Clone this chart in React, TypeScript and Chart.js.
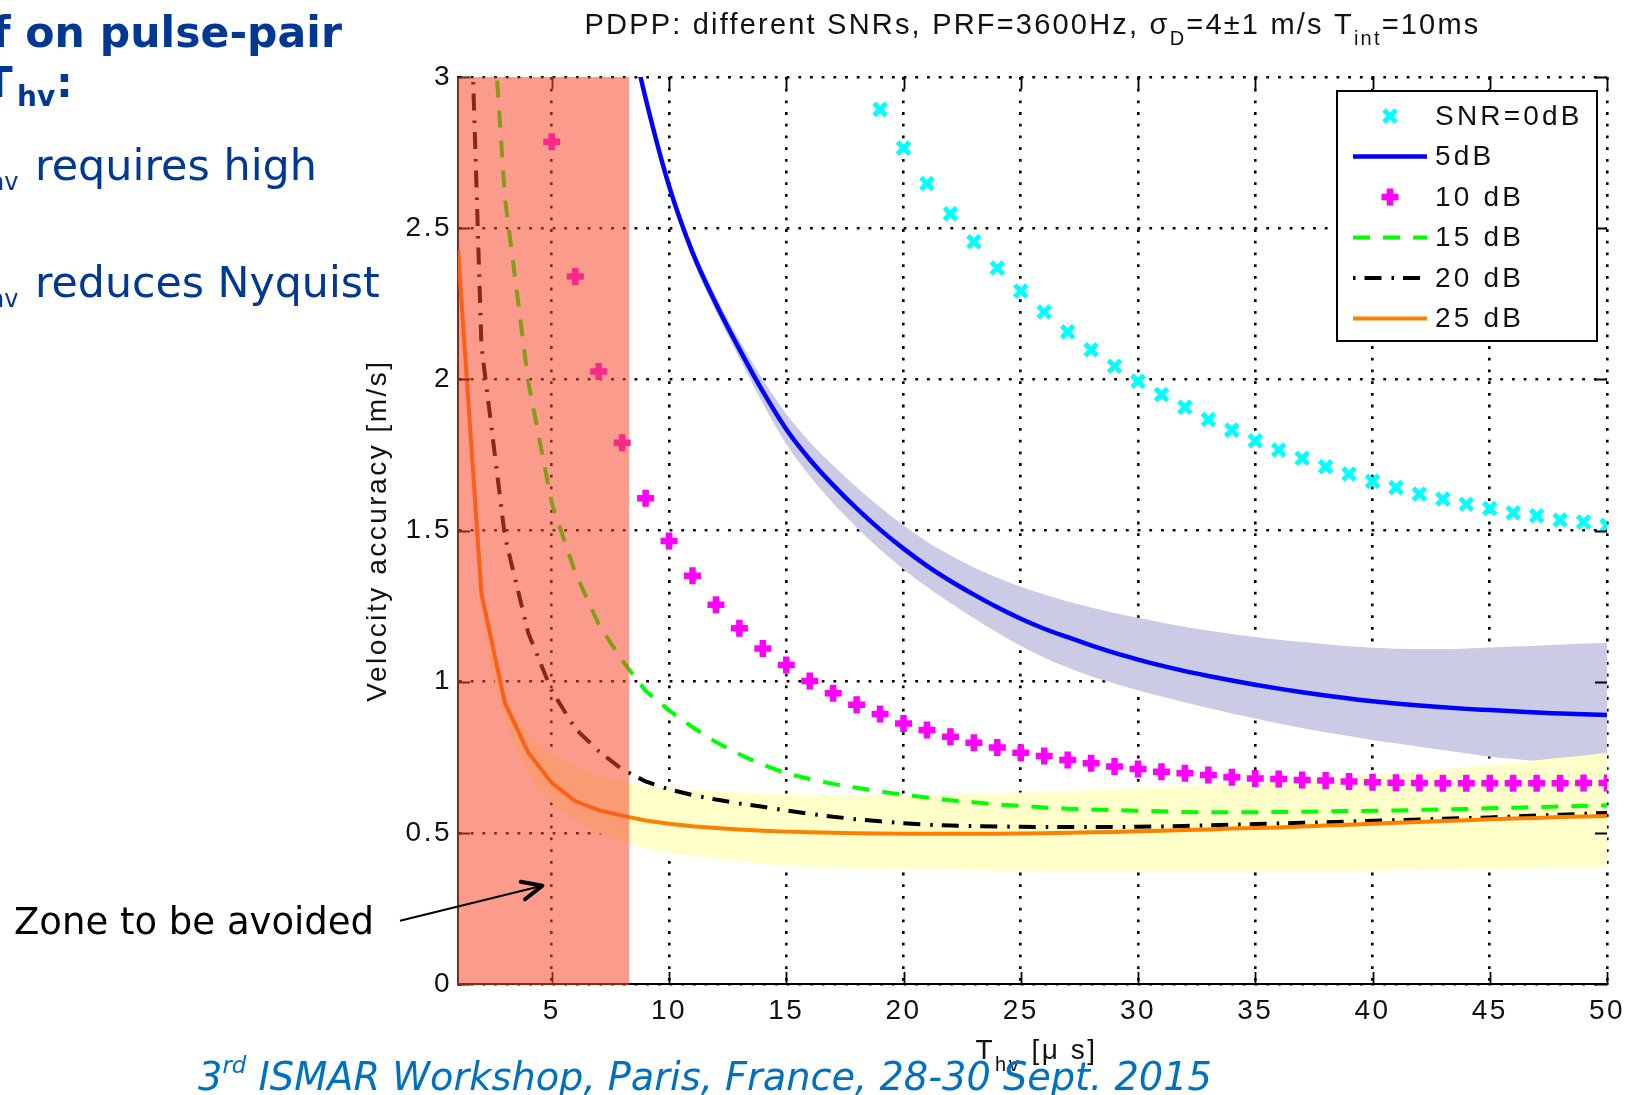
import React, { useEffect, useRef } from 'react';
import { Chart, registerables } from 'chart.js';

Chart.register(...registerables);

// ---------------- data ----------------
const T_HV = [1, 2, 3, 4, 5, 6, 7, 8, 9, 10, 11, 12, 13, 14, 15, 16, 17, 18, 19, 20, 21, 22, 23, 24, 25, 26, 27, 28, 29, 30, 31, 32, 33, 34, 35, 36, 37, 38, 39, 40, 41, 42, 43, 44, 45, 46, 47, 48, 49, 50];

const SNR_0DB = [null, null, null, null, null, null, null, null, null, null, null, null, null, null, null, null, null, null,
  2.893, 2.765, 2.648, 2.548, 2.455, 2.368, 2.292, 2.223, 2.157, 2.098, 2.043, 1.994, 1.950, 1.908, 1.867, 1.832, 1.797, 1.766, 1.739, 1.711, 1.687, 1.663, 1.642, 1.621, 1.604, 1.587, 1.573, 1.559, 1.549, 1.535, 1.528, 1.517];

const SNR_5DB = [null, null, null, null, null, null, null,
  3.27, 2.93, 2.64, 2.42, 2.25, 2.10, 1.96, 1.835, 1.735, 1.65, 1.573, 1.503, 1.44, 1.383, 1.333, 1.288, 1.246, 1.208, 1.175, 1.147, 1.120, 1.095, 1.073, 1.053, 1.035, 1.019, 1.004, 0.990, 0.977, 0.965, 0.954, 0.944, 0.935, 0.928, 0.921, 0.915, 0.910, 0.906, 0.902, 0.898, 0.895, 0.892, 0.890];

const SNR_5DB_BAND_HIGH = [null, null, null, null, null, null, null,
  3.275, 2.94, 2.655, 2.44, 2.275, 2.13, 2.0, 1.885, 1.793, 1.715, 1.643, 1.577, 1.517, 1.463, 1.418, 1.378, 1.344, 1.314, 1.288, 1.265, 1.245, 1.227, 1.211, 1.196, 1.182, 1.169, 1.158, 1.148, 1.139, 1.131, 1.124, 1.117, 1.112, 1.109, 1.108, 1.108, 1.110, 1.113, 1.116, 1.119, 1.122, 1.126, 1.129];

const SNR_5DB_BAND_LOW = [null, null, null, null, null, null, null,
  3.265, 2.92, 2.625, 2.40, 2.225, 2.07, 1.92, 1.785, 1.68, 1.59, 1.51, 1.437, 1.372, 1.313, 1.26, 1.21, 1.163, 1.118, 1.080, 1.047, 1.018, 0.994, 0.972, 0.951, 0.931, 0.913, 0.895, 0.878, 0.862, 0.847, 0.833, 0.820, 0.807, 0.796, 0.785, 0.774, 0.763, 0.752, 0.744, 0.737, 0.730, 0.724, 0.720];

const SNR_10DB = [null, null, null, null,
  2.786, 2.34, 2.026, 1.79, 1.607, 1.465, 1.35, 1.254, 1.177, 1.11, 1.055, 1.002, 0.962, 0.924, 0.893, 0.862, 0.840, 0.818, 0.798, 0.782, 0.765, 0.754, 0.741, 0.730, 0.719, 0.711, 0.702, 0.697, 0.691, 0.684, 0.680, 0.678, 0.675, 0.673, 0.670, 0.667, 0.666, 0.665, 0.664, 0.664, 0.664, 0.664, 0.664, 0.664, 0.665, 0.665];

const SNR_15DB = [null,
  3.78, 2.6, 1.99, 1.59, 1.36, 1.19, 1.07, 0.97, 0.905, 0.85, 0.80, 0.76, 0.725, 0.697, 0.678, 0.662, 0.649, 0.637, 0.626, 0.617, 0.608, 0.601, 0.594, 0.589, 0.584, 0.580, 0.577, 0.575, 0.573, 0.571, 0.569, 0.568, 0.568, 0.568, 0.569, 0.570, 0.571, 0.572, 0.573, 0.574, 0.576, 0.577, 0.579, 0.581, 0.583, 0.585, 0.587, 0.589, 0.591];

const SNR_20DB = [4.6, 2.11, 1.48, 1.16, 0.97, 0.845, 0.77, 0.71, 0.67, 0.644, 0.625, 0.61, 0.597, 0.586, 0.574, 0.563, 0.553, 0.545, 0.538, 0.532, 0.527, 0.524, 0.522, 0.521, 0.520, 0.519, 0.519, 0.519, 0.519, 0.520, 0.521, 0.523, 0.525, 0.527, 0.529, 0.531, 0.533, 0.535, 0.537, 0.540, 0.542, 0.544, 0.547, 0.549, 0.551, 0.554, 0.557, 0.560, 0.563, 0.566];

const SNR_25DB = [2.43, 1.29, 0.93, 0.765, 0.665, 0.605, 0.575, 0.557, 0.541, 0.530, 0.522, 0.516, 0.511, 0.507, 0.504, 0.502, 0.500, 0.499, 0.498, 0.497, 0.497, 0.497, 0.497, 0.497, 0.498, 0.499, 0.500, 0.502, 0.503, 0.505, 0.507, 0.509, 0.511, 0.514, 0.516, 0.518, 0.521, 0.524, 0.527, 0.530, 0.533, 0.536, 0.539, 0.542, 0.545, 0.547, 0.549, 0.552, 0.554, 0.556];

const SNR_25DB_BAND_HIGH = [2.43, 1.30, 0.96, 0.83, 0.77, 0.72, 0.69, 0.67, 0.655, 0.648, 0.642, 0.638, 0.634, 0.630, 0.628, 0.626, 0.625, 0.625, 0.625, 0.625, 0.626, 0.627, 0.629, 0.631, 0.633, 0.635, 0.638, 0.641, 0.644, 0.647, 0.651, 0.655, 0.659, 0.663, 0.668, 0.672, 0.677, 0.682, 0.687, 0.692, 0.698, 0.704, 0.710, 0.717, 0.724, 0.732, 0.740, 0.748, 0.756, 0.765];

const SNR_25DB_BAND_LOW = [2.43, 1.28, 0.89, 0.70, 0.60, 0.54, 0.50, 0.47, 0.45, 0.435, 0.423, 0.413, 0.405, 0.398, 0.393, 0.388, 0.385, 0.382, 0.380, 0.379, 0.378, 0.377, 0.376, 0.375, 0.375, 0.374, 0.374, 0.373, 0.373, 0.373, 0.372, 0.372, 0.372, 0.372, 0.372, 0.372, 0.373, 0.373, 0.374, 0.375, 0.376, 0.377, 0.378, 0.379, 0.380, 0.382, 0.383, 0.385, 0.386, 0.388];

const X_TICKS = [5, 10, 15, 20, 25, 30, 35, 40, 45, 50];
const Y_TICKS = [0, 0.5, 1, 1.5, 2, 2.5, 3];
const X_MIN = 1;
const X_MAX = 50;
const Y_MIN = 0;
const Y_MAX = 3;
const AVOID_ZONE_END = 8.3; // T_hv [µs], right edge of the "zone to be avoided"
const ARROW_TIP = { t: 4.6, v: 0.325 };

// legend order (dataset indices)
const LEGEND_ORDER = [5, 4, 3, 2, 1, 0];

// ---------------- styles ----------------
const AXIS_FONT = '"Liberation Sans", Arial, Helvetica, sans-serif';
const SLIDE_FONT = '"DejaVu Sans", Verdana, sans-serif';
const SLIDE_BLUE = '#003893';

const toPoints = (ys: (number | null)[]) =>
  T_HV.map((t, i) => ({ x: t, y: ys[i] })).filter((p) => p.y !== null);

type Run = { text: string; sub?: boolean };

function drawRuns(ctx: any, runs: Run[], x: number, baseline: number, size: number, subSize: number, subDrop: number, center: boolean) {
  ctx.textAlign = 'left';
  ctx.textBaseline = 'alphabetic';
  const widths = runs.map((r) => {
    ctx.font = `${r.sub ? subSize : size}px ${AXIS_FONT}`;
    return ctx.measureText(r.text).width;
  });
  const total = widths.reduce((a, b) => a + b, 0);
  let xp = center ? x - total / 2 : x;
  runs.forEach((r, i) => {
    ctx.font = `${r.sub ? subSize : size}px ${AXIS_FONT}`;
    ctx.fillText(r.text, xp, baseline + (r.sub ? subDrop : 0));
    xp += widths[i];
  });
}

const decorPlugin = {
  id: 'decor',
  beforeDraw(chart: any) {
    chart.ctx.letterSpacing = '2.5px';
  },
  afterDatasetsDraw(chart: any) {
    const { ctx, chartArea: a, scales } = chart;
    const xs = scales.x;
    const ys = scales.y;
    ctx.save();
    ctx.setLineDash([]);
    ctx.strokeStyle = '#000';
    ctx.lineWidth = 1.8;
    const TL = 12;
    ctx.beginPath();
    X_TICKS.forEach((t) => {
      const px = Math.round(xs.getPixelForValue(t)) + 0.5;
      ctx.moveTo(px, a.bottom);
      ctx.lineTo(px, a.bottom - TL);
      ctx.moveTo(px, a.top);
      ctx.lineTo(px, a.top + TL);
    });
    Y_TICKS.forEach((v) => {
      const py = Math.round(ys.getPixelForValue(v)) + 0.5;
      ctx.moveTo(a.left, py);
      ctx.lineTo(a.left + TL, py);
      ctx.moveTo(a.right, py);
      ctx.lineTo(a.right - TL, py);
    });
    ctx.stroke();

    // zone to be avoided (translucent red overlay)
    const x0 = xs.getPixelForValue(X_MIN) - 1;
    const x1 = xs.getPixelForValue(AVOID_ZONE_END);
    const y0 = ys.getPixelForValue(Y_MAX);
    const y1 = ys.getPixelForValue(Y_MIN) + 1;
    ctx.fillStyle = 'rgba(245, 72, 44, 0.55)';
    ctx.fillRect(x0, y0, x1 - x0, y1 - y0);
    ctx.restore();
  },
  afterDraw(chart: any) {
    const { ctx, chartArea: a, scales } = chart;
    const xs = scales.x;
    const ys = scales.y;
    ctx.save();
    ctx.fillStyle = '#111';

    // title
    ctx.letterSpacing = '2.2px';
    drawRuns(ctx, [
      { text: 'PDPP: different SNRs, PRF=3600Hz, σ' },
      { text: 'D', sub: true },
      { text: '=4±1 m/s T' },
      { text: 'int', sub: true },
      { text: '=10ms' },
    ], (a.left + a.right) / 2, a.top - 43, 29, 20, 11, true);

    // x axis title
    ctx.letterSpacing = '2.5px';
    drawRuns(ctx, [
      { text: 'T' },
      { text: 'hv', sub: true },
      { text: ' [μ s]' },
    ], (a.left + a.right) / 2 + 4, a.bottom + 75, 28, 20, 12, true);

    // y axis title
    ctx.save();
    ctx.translate(a.left - 72, (a.top + a.bottom) / 2);
    ctx.rotate(-Math.PI / 2);
    ctx.font = `28px ${AXIS_FONT}`;
    ctx.textAlign = 'center';
    ctx.textBaseline = 'alphabetic';
    ctx.fillText('Velocity accuracy [m/s]', 0, 0);
    ctx.restore();

    // legend box
    const L = { left: a.right - 270, top: a.top + 14, w: 260, h: 250 };
    ctx.fillStyle = '#fff';
    ctx.fillRect(L.left, L.top, L.w, L.h);
    ctx.strokeStyle = '#000';
    ctx.lineWidth = 2;
    ctx.setLineDash([]);
    ctx.strokeRect(L.left, L.top, L.w, L.h);
    ctx.letterSpacing = '3.2px';
    LEGEND_ORDER.forEach((di, row) => {
      const ds = chart.data.datasets[di];
      const cy = L.top + 25 + row * 40.5;
      const sx0 = L.left + 16;
      const sx1 = L.left + 90;
      ctx.save();
      if (ds.showLine === false) {
        const cx = (sx0 + sx1) / 2;
        ctx.strokeStyle = ds.pointBorderColor;
        ctx.lineWidth = ds.pointBorderWidth;
        const r = ds.pointRadius;
        ctx.beginPath();
        if (ds.pointStyle === 'crossRot') {
          const d = r * Math.SQRT1_2;
          ctx.moveTo(cx - d, cy - d); ctx.lineTo(cx + d, cy + d);
          ctx.moveTo(cx + d, cy - d); ctx.lineTo(cx - d, cy + d);
        } else {
          ctx.moveTo(cx - r, cy); ctx.lineTo(cx + r, cy);
          ctx.moveTo(cx, cy - r); ctx.lineTo(cx, cy + r);
        }
        ctx.stroke();
      } else {
        ctx.strokeStyle = ds.borderColor;
        ctx.lineWidth = ds.borderWidth;
        ctx.setLineDash(ds.borderDash || []);
        ctx.lineDashOffset = ds.legendDashOffset || 0;
        ctx.beginPath();
        ctx.moveTo(sx0, cy);
        ctx.lineTo(sx1, cy);
        ctx.stroke();
      }
      ctx.restore();
      ctx.fillStyle = '#111';
      ctx.font = `28px ${AXIS_FONT}`;
      ctx.textAlign = 'left';
      ctx.textBaseline = 'middle';
      ctx.fillText(ds.label, L.left + 98, cy + 1);
    });

    // arrow pointing into the avoided zone
    const tipX = xs.getPixelForValue(ARROW_TIP.t);
    const tipY = ys.getPixelForValue(ARROW_TIP.v);
    const tailX = a.left - 58;
    const tailY = tipY + 35;
    ctx.strokeStyle = '#000';
    ctx.setLineDash([]);
    ctx.lineWidth = 2;
    ctx.beginPath();
    ctx.moveTo(tailX, tailY);
    ctx.lineTo(tipX - 2, tipY + 0.5);
    ctx.stroke();
    const ang = Math.atan2(tipY - tailY, tipX - tailX);
    const hl = 22;
    const spread = 0.42;
    ctx.lineWidth = 4;
    ctx.lineCap = 'round';
    ctx.lineJoin = 'round';
    ctx.beginPath();
    ctx.moveTo(tipX - hl * Math.cos(ang - spread), tipY - hl * Math.sin(ang - spread));
    ctx.lineTo(tipX, tipY);
    ctx.lineTo(tipX - hl * Math.cos(ang + spread), tipY - hl * Math.sin(ang + spread));
    ctx.stroke();
    ctx.restore();
  },
};

function SlideText(props: any) {
  const { x, baseline, size, weight = 400, italic = false, color = SLIDE_BLUE, children } = props;
  return (
    <div
      style={{
        position: 'absolute',
        left: x,
        top: baseline - 0.846 * size,
        fontFamily: SLIDE_FONT,
        fontSize: size,
        fontWeight: weight,
        fontStyle: italic ? 'italic' : 'normal',
        lineHeight: 1,
        color,
        whiteSpace: 'nowrap',
      }}
    >
      {children}
    </div>
  );
}

export default function App() {
  const canvasRef = useRef<HTMLCanvasElement>(null);

  useEffect(() => {
    const canvas = canvasRef.current;
    if (!canvas) return;
    const hidden = { borderColor: 'transparent', borderWidth: 0, pointRadius: 0 };
    const smooth = { cubicInterpolationMode: 'monotone' };
    const chart = new Chart(canvas, {
      type: 'line',
      data: {
        datasets: [
          { label: '25 dB', data: toPoints(SNR_25DB), borderColor: '#FF7F00', borderWidth: 4, pointRadius: 0, tension: 0, fill: false },
          { label: '20 dB', data: toPoints(SNR_20DB), borderColor: '#000000', borderWidth: 4, borderDash: [17, 10, 2.5, 9], legendDashOffset: 27, pointRadius: 0, tension: 0, fill: false },
          { label: '15 dB', data: toPoints(SNR_15DB), borderColor: '#00FF00', borderWidth: 4, borderDash: [17, 13], pointRadius: 0, tension: 0, fill: false },
          { label: '10 dB', data: toPoints(SNR_10DB), showLine: false, pointStyle: 'cross', pointRadius: 8.5, pointBorderWidth: 6.5, pointBorderColor: '#FF00FF', borderColor: '#FF00FF', pointBackgroundColor: '#FF00FF', fill: false },
          { label: '5dB', data: toPoints(SNR_5DB), borderColor: '#0000FF', borderWidth: 4.5, pointRadius: 0, ...smooth, fill: false },
          { label: 'SNR=0dB', data: toPoints(SNR_0DB), showLine: false, pointStyle: 'crossRot', pointRadius: 8.5, pointBorderWidth: 5, pointBorderColor: '#00FFFF', borderColor: '#00FFFF', pointBackgroundColor: '#00FFFF', fill: false },
          { label: '25 dB spread low', data: toPoints(SNR_25DB_BAND_LOW), ...hidden, ...smooth, fill: false },
          { label: '25 dB spread high', data: toPoints(SNR_25DB_BAND_HIGH), ...hidden, ...smooth, fill: '-1', backgroundColor: '#FFFFCA' },
          { label: '5 dB spread low', data: toPoints(SNR_5DB_BAND_LOW), ...hidden, ...smooth, fill: false },
          { label: '5 dB spread high', data: toPoints(SNR_5DB_BAND_HIGH), ...hidden, ...smooth, fill: '-1', backgroundColor: '#CBCBE5' },
        ] as any,
      },
      options: {
        animation: false,
        responsive: false,
        devicePixelRatio: 1,
        events: [],
        layout: { padding: { left: 0, right: 31, top: 77, bottom: 0 } },
        plugins: {
          legend: { display: false },
          title: { display: false },
          tooltip: { enabled: false },
        },
        scales: {
          x: {
            type: 'linear',
            min: X_MIN,
            max: X_MAX,
            afterBuildTicks: (s: any) => { s.ticks = X_TICKS.map((v) => ({ value: v })); },
            afterFit: (s: any) => { s.height = 111; },
            ticks: { autoSkip: false, maxRotation: 0, padding: 10, color: '#111', font: { family: AXIS_FONT, size: 28 }, callback: (v: any) => String(v) },
            grid: { color: '#000', lineWidth: 2.6, drawTicks: false },
            border: { display: true, color: '#000', width: 2, dash: [2.8, 8.9] },
          },
          y: {
            type: 'linear',
            min: Y_MIN,
            max: Y_MAX,
            afterBuildTicks: (s: any) => { s.ticks = Y_TICKS.map((v) => ({ value: v })); },
            afterFit: (s: any) => { s.width = 458; },
            ticks: { autoSkip: false, padding: 6, color: '#111', font: { family: AXIS_FONT, size: 28 }, callback: (v: any) => String(v) },
            grid: { color: '#000', lineWidth: 2.6, drawTicks: false },
            border: { display: true, color: '#000', width: 2, dash: [2.8, 8.9] },
          },
        },
      } as any,
      plugins: [decorPlugin],
    });
    return () => chart.destroy();
  }, []);

  return (
    <div style={{ position: 'fixed', left: 0, top: 0, width: 1638, height: 1095, overflow: 'hidden', background: '#fff' }}>
      <canvas ref={canvasRef} width={1638} height={1095} style={{ position: 'absolute', left: 0, top: 0, width: 1638, height: 1095 }} />

      <SlideText x={-8} baseline={47} size={42.6} weight={700}>f on pulse-pair</SlideText>
      <SlideText x={-16} baseline={98} size={42} weight={700}>T</SlideText>
      <SlideText x={17} baseline={107} size={28} weight={700}>hv</SlideText>
      <SlideText x={56} baseline={98} size={42} weight={700}>:</SlideText>

      <SlideText x={-11} baseline={190} size={24}>hv</SlideText>
      <SlideText x={35} baseline={180} size={42.9}>requires high</SlideText>
      <SlideText x={-11} baseline={307} size={24}>hv</SlideText>
      <SlideText x={35} baseline={297} size={42.7}>reduces Nyquist</SlideText>

      <SlideText x={14} baseline={934} size={37} color="#000">Zone to be avoided</SlideText>

      <SlideText x={198} baseline={1090} size={38.3} italic color="#0070C0">
        3<span style={{ fontSize: '0.6em', position: 'relative', top: '-0.72em' }}>rd</span> ISMAR Workshop, Paris, France, 28-30 Sept. 2015
      </SlideText>
    </div>
  );
}
